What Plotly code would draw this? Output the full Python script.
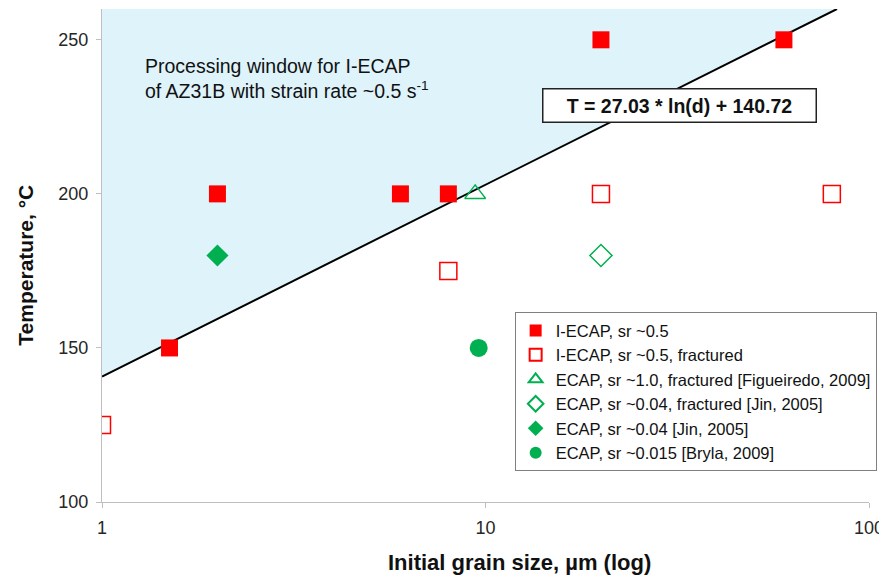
import math
import plotly.graph_objects as go

# Data
iecap_x = [1.5, 2, 6, 8, 20, 60]
iecap_y = [150, 200, 200, 200, 250, 250]
iecap_fr_x = [1, 8, 20, 80]
iecap_fr_y = [125, 175, 200, 200]
figueiredo_x = [9.4]
figueiredo_y = [200]
jin_fr_x = [20]
jin_fr_y = [180]
jin_x = [2]
jin_y = [180]
bryla_x = [9.6]
bryla_y = [150]

slope = 27.03
intercept = 140.72
y_min, y_max = 100, 260
x_min = 1

def fit(d):
    return slope * math.log(d) + intercept

d_top = math.exp((y_max - intercept) / slope)
line_x = [x_min, d_top]
line_y = [fit(x_min), y_max]

FONT = "Arial, Liberation Sans, sans-serif"
RED = "#ff0000"
GREEN = "#00b050"

fig = go.Figure()

# processing window (fill above the fit line)
fig.add_trace(go.Scatter(
    x=[x_min, d_top, x_min, x_min], y=[fit(x_min), y_max, y_max, fit(x_min)],
    mode="lines", fill="toself", fillcolor="#dff3fb",
    line=dict(width=0), hoverinfo="skip", showlegend=False))

fig.add_trace(go.Scatter(
    x=line_x, y=line_y, mode="lines",
    line=dict(color="black", width=2), showlegend=False))

fig.add_trace(go.Scatter(
    x=iecap_x, y=iecap_y, mode="markers", name="I-ECAP, sr ~0.5",
    marker=dict(symbol="square", size=17, color=RED)))
fig.add_trace(go.Scatter(
    x=iecap_fr_x, y=iecap_fr_y, mode="markers", name="I-ECAP, sr ~0.5, fractured",
    marker=dict(symbol="square-open", size=17, color=RED, line=dict(width=1.5))))
fig.add_trace(go.Scatter(
    x=figueiredo_x, y=figueiredo_y, mode="markers",
    name="ECAP, sr ~1.0, fractured [Figueiredo, 2009]",
    marker=dict(symbol="triangle-up-open", size=18, color=GREEN, line=dict(width=1.5))))
fig.add_trace(go.Scatter(
    x=jin_fr_x, y=jin_fr_y, mode="markers",
    name="ECAP, sr ~0.04, fractured [Jin, 2005]",
    marker=dict(symbol="diamond-open", size=17, color=GREEN, line=dict(width=1.5))))
fig.add_trace(go.Scatter(
    x=jin_x, y=jin_y, mode="markers", name="ECAP, sr ~0.04 [Jin, 2005]",
    marker=dict(symbol="diamond", size=17, color=GREEN)))
fig.add_trace(go.Scatter(
    x=bryla_x, y=bryla_y, mode="markers", name="ECAP, sr ~0.015 [Bryla, 2009]",
    marker=dict(symbol="circle", size=18, color=GREEN)))

fig.update_layout(
    width=879, height=569,
    margin=dict(l=94, r=18, t=1, b=75, autoexpand=False),
    plot_bgcolor="white", paper_bgcolor="white",
    font=dict(family=FONT, size=18, color="#262626"),
    showlegend=True,
    legend=dict(x=0.538, y=0.385, xanchor="left", yanchor="top",
                bgcolor="white", bordercolor="#808080", borderwidth=1,
                font=dict(size=16.5, color="#111"), itemsizing="constant",
                itemwidth=30, tracegroupgap=0),
    xaxis=dict(type="log", range=[0, 2], tickvals=[1, 10, 100],
               ticktext=["1", "10", "100"], automargin=False,
               showgrid=False, zeroline=False, showline=True,
               linecolor="#bfbfbf", linewidth=1, ticks="outside",
               tickcolor="#bfbfbf", ticklen=5, ticklabelstandoff=4),
    yaxis=dict(range=[y_min, y_max], tickvals=[100, 150, 200, 250],
               automargin=False,
               showgrid=False, zeroline=False, showline=True,
               linecolor="#bfbfbf", linewidth=1, ticks="outside",
               tickcolor="#bfbfbf", ticklen=5, ticklabelstandoff=4),
    annotations=[
        # axis titles
        dict(xref="paper", yref="paper", x=0.544, y=-0.122,
             xanchor="center", yanchor="middle", showarrow=False,
             text="<b>Initial grain size, µm (log)</b>",
             font=dict(size=22, color="#111")),
        dict(xref="paper", yref="paper", x=-0.1, y=0.48,
             xanchor="center", yanchor="middle", showarrow=False,
             textangle=-90, text="<b>Temperature, °C</b>",
             font=dict(size=21, color="#111")),
        dict(xref="paper", yref="paper", x=0.054, y=0.91,
             xanchor="left", yanchor="top", align="left", showarrow=False,
             text="Processing window for I-ECAP<br>of AZ31B with strain rate ~0.5 s<sup>-1</sup>",
             font=dict(size=19.5, color="#111")),
        dict(xref="paper", yref="paper", x=0.753, y=0.804,
             xanchor="center", yanchor="middle", showarrow=False,
             text="<b>T = 27.03 * ln(d) + 140.72</b>",
             font=dict(size=19.5, color="#111"),
             bgcolor="white", bordercolor="#222", borderwidth=1.5,
             borderpad=4, width=264, height=24),
    ],
)

fig.write_html("out.html")
